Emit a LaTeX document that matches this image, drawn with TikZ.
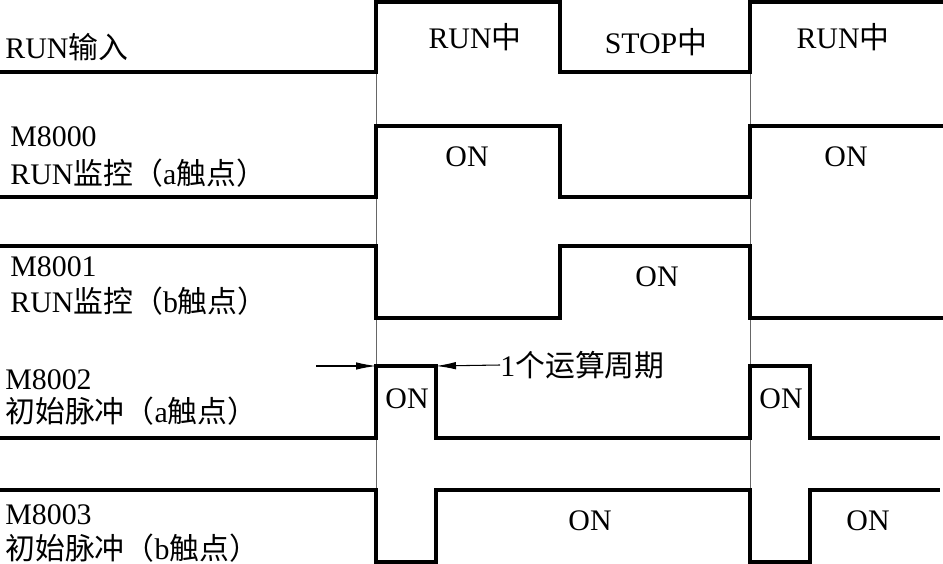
\documentclass[tikz,border=0pt]{standalone}
\usepackage{fontspec}
\setmainfont{Liberation Serif}
\newfontfamily\cjk{Noto Sans CJK SC}
\newcommand{\zh}[1]{{\cjk #1}}
\usetikzlibrary{arrows.meta}

\begin{document}
\begin{tikzpicture}[
    x=0.02cm, y=-0.02cm,
    font=\fontsize{17}{20}\selectfont,
    wave/.style={line width=1.8pt},
    guide/.style={line width=0.5pt, black!60},
    sig/.style={anchor=west, inner sep=0pt},
    state/.style={inner sep=0pt},
    arr/.style={-{Latex[length=4mm,width=1.5mm]}, line width=0.6pt},
]
\useasboundingbox (0,0) rectangle (943,564);

% Guide lines at the RUN edges
\foreach \x in {376,750}
    \draw[guide] (\x,0) -- (\x,564);

% RUN input
\draw[wave] (0,72) -- (376,72) -- (376,2) -- (560,2) -- (560,72) -- (750,72) -- (750,2) -- (943,2);
\node[sig] (runin) at (5,47) {RUN\zh{输入}};
\node[state] (run1) at (475,37) {RUN\zh{中}};
\node[state] (stop) at (656,42) {STOP\zh{中}};
\node[state] (run2) at (843,37) {RUN\zh{中}};

% M8000
\draw[wave] (0,197) -- (376,197) -- (376,126) -- (560,126) -- (560,197) -- (750,197) -- (750,126) -- (943,126);
\node[sig] (m8000) at (10,137) {M8000};
\node[sig] (m8000t) at (10,173) {RUN\zh{监控（}a\zh{触点）}};
\node[state] (on1) at (467,157) {ON};
\node[state] (on2) at (846,157) {ON};

% M8001
\draw[wave] (0,246) -- (376,246) -- (376,318) -- (560,318) -- (560,246) -- (750,246) -- (750,318) -- (943,318);
\node[sig] (m8001) at (10,267) {M8001};
\node[sig] (m8001t) at (10,301) {RUN\zh{监控（}b\zh{触点）}};
\node[state] (on3) at (657,277) {ON};

% M8002
\draw[wave] (0,438) -- (376,438) -- (376,366) -- (436,366) -- (436,438) -- (750,438) -- (750,366) -- (810,366) -- (810,438) -- (940,438);
\node[sig] (m8002) at (5,380) {M8002};
\node[sig] (m8002t) at (5,411) {\zh{初始脉冲（}a\zh{触点）}};
\node[state] (on4) at (407,399) {ON};
\node[state] (on5) at (781,399) {ON};

% M8003
\draw[wave] (0,490) -- (376,490) -- (376,562) -- (436,562) -- (436,490) -- (750,490) -- (750,562) -- (810,562) -- (810,490) -- (940,490);
\node[sig] (m8003) at (5,515) {M8003};
\node[sig] (m8003t) at (5,548) {\zh{初始脉冲（}b\zh{触点）}};
\node[state] (on6) at (590,521) {ON};
\node[state] (on7) at (868,521) {ON};

% One scan cycle
\coordinate (cl) at (316,366);
\coordinate (cs) at (376,366);
\coordinate (ce) at (436,366);
\node[sig] (cyc) at (500,365) {1\zh{个运算周期}};
\draw[arr] (cl) -- (cs);
\draw[arr] (cyc.west) -- (ce);
\end{tikzpicture}
\end{document}
